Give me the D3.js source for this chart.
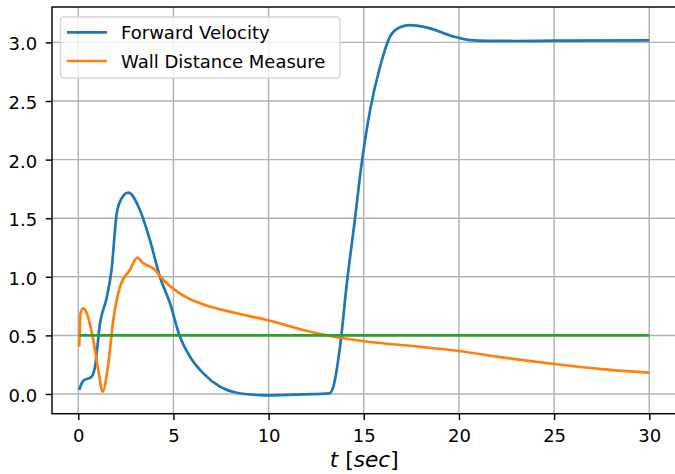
<!DOCTYPE html>
<html>
<head>
<meta charset="utf-8">
<script src="https://cdn.jsdelivr.net/npm/d3@7"></script>
<style>
  body { margin: 0; background: #fff; }
  svg text { font-family: "DejaVu Sans", sans-serif; fill: #000; }
</style>
</head>
<body>
<svg id="chart" width="675" height="474"></svg>
<script>
// forward velocity
let velT = [0.05, 0.26, 0.7, 0.88, 1.14, 1.49, 1.75, 2.02, 2.28, 2.63, 3.24, 3.77, 4.29, 4.82, 5.34, 5.87, 6.57,
    7.45, 8.32, 9.55, 10.07, 11.82, 13.19, 13.4, 13.75, 14.1, 14.53, 14.89, 15.33, 15.85, 16.38, 16.9, 17.43,
    18.48, 19.7, 20.58, 21.5, 23, 25, 30];
let velV = [0.035, 0.113, 0.148, 0.233, 0.6, 0.82, 1.06, 1.54, 1.67, 1.718, 1.57, 1.31, 1.0, 0.774, 0.49, 0.318, 0.176,
    0.062, 0.011, -0.009, -0.011, -0.003, 0.006, 0.062, 0.4, 0.93, 1.485, 1.968, 2.42, 2.79, 3.05, 3.13, 3.148,
    3.12, 3.05, 3.02, 3.013, 3.012, 3.015, 3.017];

// wall distance measure
let wallT = [0.05, 0.12, 0.26, 0.44, 0.79, 1.05, 1.28, 1.58, 1.84, 2.19, 2.72, 3.1, 3.42, 3.94, 4.47, 5.52, 6.4,
    8.32, 10.07, 11.82, 13.58, 15, 17.87, 20, 22.25, 25, 27.5, 30];
let wallV = [0.404, 0.69, 0.73, 0.69, 0.46, 0.205, 0.02, 0.26, 0.63, 0.915, 1.06, 1.163, 1.115, 1.072, 0.973, 0.84, 0.774,
    0.689, 0.625, 0.546, 0.484, 0.45, 0.404, 0.367, 0.313, 0.256, 0.213, 0.182];

// reference level
let refT = [0.05, 30];
let refV = [0.5, 0.5];

let xTicks = [0, 5, 10, 15, 20, 25, 30];
let yTicks = [0, 0.5, 1, 1.5, 2, 2.5, 3];
let seriesNames = ["Forward Velocity", "Wall Distance Measure"];
let colors = ["#1f77b4", "#ff7f0e", "#2ca02c"];

let plotLeft = 52, plotRight = 676.5, plotTop = 7, plotBottom = 413.7;

let svg = d3.select("#chart");

let x = d3.scaleLinear().domain([-1.38, 31.43]).range([plotLeft, plotRight]);
let y = d3.scaleLinear().domain([-0.168, 3.302]).range([plotBottom, plotTop]);

// grid
svg.append("g")
    .selectAll("line")
    .data(xTicks)
    .enter()
    .append("line")
    .attr("x1", d => x(d)).attr("x2", d => x(d))
    .attr("y1", plotTop).attr("y2", plotBottom)
    .style("stroke", "#b0b0b0")
    .style("stroke-width", 1.45);

svg.append("g")
    .selectAll("line")
    .data(yTicks)
    .enter()
    .append("line")
    .attr("x1", plotLeft).attr("x2", plotRight)
    .attr("y1", d => y(d)).attr("y2", d => y(d))
    .style("stroke", "#b0b0b0")
    .style("stroke-width", 1.45);

// lines
let line = d3.line()
    .x(d => x(d[0]))
    .y(d => y(d[1]))
    .curve(d3.curveMonotoneX);

let series = [
    d3.zip(velT, velV),
    d3.zip(wallT, wallV),
    d3.zip(refT, refV)
];

svg.append("g")
    .selectAll("path")
    .data(series)
    .enter()
    .append("path")
    .attr("d", line)
    .style("fill", "none")
    .style("stroke", (d, i) => colors[i])
    .style("stroke-width", 2.7)
    .style("stroke-linejoin", "round");

// axes
let xAxis = d3.axisBottom(x).tickValues(xTicks).tickSize(6.3).tickPadding(6.3).tickFormat(d3.format("d"));
let yAxis = d3.axisLeft(y).tickValues(yTicks).tickSize(6.3).tickPadding(8.5).tickFormat(d3.format(".1f"));

let gx = svg.append("g").attr("transform", "translate(0," + plotBottom + ")").call(xAxis);
let gy = svg.append("g").attr("transform", "translate(" + plotLeft + ",0)").call(yAxis);

[gx, gy].forEach(function(g) {
    g.select(".domain").remove();
    g.selectAll(".tick line").style("stroke", "#000").style("stroke-width", 1.45);
    g.selectAll(".tick text")
        .style("font-family", "DejaVu Sans")
        .style("font-size", "18px")
        .style("fill", "#000");
});
gx.selectAll(".tick text").attr("dy", "0.85em");
gy.selectAll(".tick text").attr("dy", "0.42em");

// spines (right one falls outside the picture)
svg.append("rect")
    .attr("x", plotLeft).attr("y", plotTop)
    .attr("width", plotRight - plotLeft).attr("height", plotBottom - plotTop)
    .style("fill", "none")
    .style("stroke", "#000")
    .style("stroke-width", 1.45);

// x label
let xl = svg.append("text")
    .attr("x", (plotLeft + plotRight) / 2)
    .attr("y", 466.5)
    .attr("text-anchor", "middle")
    .style("font-size", "21.7px");
xl.append("tspan").style("font-style", "italic").text("t");
xl.append("tspan").text(" [");
xl.append("tspan").style("font-style", "italic").text("sec");
xl.append("tspan").text("]");

// legend
let legend = svg.append("g");
legend.append("rect")
    .attr("x", 60.5).attr("y", 17)
    .attr("width", 279.5).attr("height", 61)
    .attr("rx", 3.5)
    .style("fill", "#fff")
    .style("fill-opacity", 0.8)
    .style("stroke", "#d6d6d6")
    .style("stroke-width", 1.45);

let items = legend.selectAll("g.item")
    .data(seriesNames)
    .enter()
    .append("g")
    .attr("class", "item")
    .attr("transform", (d, i) => "translate(0," + (32.3 + i * 28.7) + ")");

items.append("line")
    .attr("x1", 67).attr("x2", 107)
    .style("stroke", (d, i) => colors[i])
    .style("stroke-width", 2.7);

items.append("text")
    .attr("x", 121)
    .attr("y", 6.5)
    .style("font-size", "18px")
    .text(d => d);
</script>
</body>
</html>
